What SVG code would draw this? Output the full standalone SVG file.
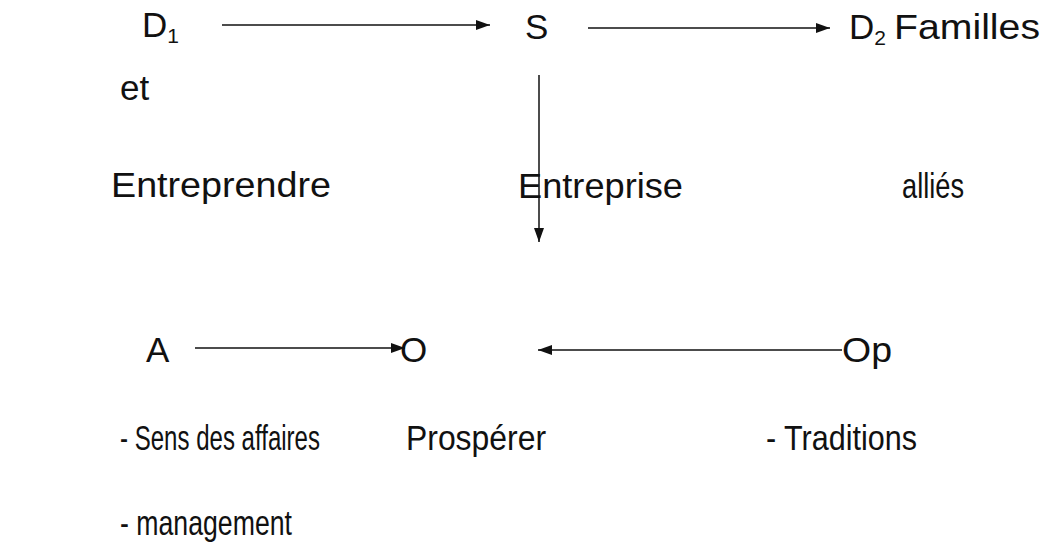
<svg xmlns="http://www.w3.org/2000/svg" width="1059" height="560" viewBox="0 0 1059 560">
<style>
text{font-family:"Liberation Sans",Arial,sans-serif;font-size:35px;fill:#111}
.c line{stroke:#111;stroke-width:1.5}
.sub{font-size:21px}
</style>
<defs>
<marker id="ah" viewBox="0 0 14 10" refX="14" refY="5" markerWidth="14" markerHeight="10" markerUnits="userSpaceOnUse" orient="auto">
<path d="M0,0 L14,5 L0,10 Z" fill="#111"/>
</marker>
</defs>
<rect width="1059" height="560" fill="#fff"/>
<g id="D1"><text x="142" y="37">D<tspan class="sub" dy="6">1</tspan></text></g>
<g id="S"><text x="525" y="39">S</text></g>
<g id="D2"><text x="849" y="39">D<tspan class="sub" dy="6">2</tspan></text><text x="894" y="39" textLength="146" lengthAdjust="spacingAndGlyphs">Familles</text></g>
<g id="et"><text x="120" y="100">et</text></g>
<g id="entreprendre"><text x="111" y="197" textLength="220" lengthAdjust="spacingAndGlyphs">Entreprendre</text></g>
<g id="entreprise"><text x="518" y="198" textLength="165" lengthAdjust="spacingAndGlyphs">Entreprise</text></g>
<g id="allies"><text x="902" y="198" textLength="62" lengthAdjust="spacingAndGlyphs">alliés</text></g>
<g id="A"><text x="146" y="362">A</text></g>
<g id="O"><text x="400" y="362">O</text></g>
<g id="Op"><text x="842" y="362" textLength="50" lengthAdjust="spacingAndGlyphs">Op</text></g>
<g id="sens"><text x="120" y="450" textLength="200" lengthAdjust="spacingAndGlyphs">- Sens des affaires</text></g>
<g id="prosperer"><text x="406" y="450" textLength="140" lengthAdjust="spacingAndGlyphs">Prospérer</text></g>
<g id="traditions"><text x="766" y="450" textLength="151" lengthAdjust="spacingAndGlyphs">- Traditions</text></g>
<g id="management"><text x="120" y="535" textLength="172" lengthAdjust="spacingAndGlyphs">- management</text></g>
<g class="c" id="connectors">
<line x1="222" y1="25" x2="490" y2="25" marker-end="url(#ah)"/>
<line x1="588" y1="28" x2="830" y2="28" marker-end="url(#ah)"/>
<line x1="539" y1="75" x2="539" y2="242" marker-end="url(#ah)"/>
<line x1="195" y1="348" x2="405" y2="348" marker-end="url(#ah)"/>
<line x1="842" y1="350" x2="538" y2="350" marker-end="url(#ah)"/>
</g>
</svg>
